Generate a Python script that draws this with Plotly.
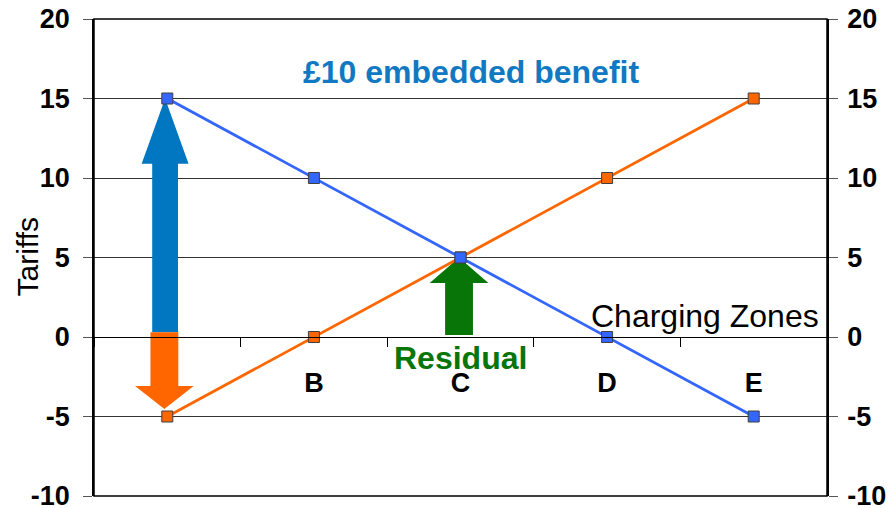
import plotly.graph_objects as go

zones = ["A", "B", "C", "D", "E"]
zone_labels = ["", "B", "C", "D", "E"]
blue_vals = [15, 10, 5, 0, -5]
orange_vals = [-5, 0, 5, 10, 15]
y_ticks = [-10, -5, 0, 5, 10, 15, 20]

FONT = "Liberation Sans, Arial, sans-serif"
BLUE_LINE = "#3366ff"
ORANGE = "#ff6600"
ARROW_BLUE = "#0077c0"
GREEN = "#087508"

fig = go.Figure()

fig.add_trace(go.Scatter(
    x=zones, y=orange_vals, mode="lines+markers",
    line=dict(color=ORANGE, width=2.8),
    marker=dict(symbol="square", size=11, color=ORANGE, line=dict(color="#404040", width=1)),
    showlegend=False, hoverinfo="skip"))
fig.add_trace(go.Scatter(
    x=zones, y=blue_vals, mode="lines+markers",
    line=dict(color=BLUE_LINE, width=2.8),
    marker=dict(symbol="square", size=11, color=BLUE_LINE, line=dict(color="#404040", width=1)),
    showlegend=False, hoverinfo="skip"))
# invisible trace to activate the right-hand axis
fig.add_trace(go.Scatter(
    x=zones, y=blue_vals, mode="markers", yaxis="y2",
    marker=dict(opacity=0), showlegend=False, hoverinfo="skip"))


def arrow_path(xc, y_base, y_head, y_tip, shaft_hw, head_hw):
    pts = [(xc - shaft_hw, y_base), (xc - shaft_hw, y_head), (xc - head_hw, y_head),
           (xc, y_tip), (xc + head_hw, y_head), (xc + shaft_hw, y_head), (xc + shaft_hw, y_base)]
    return "M " + " L ".join(f"{x},{y}" for x, y in pts) + " Z"

# Arrows (anchored on data points)
a_idx = 0
c_idx = 2
fig.add_shape(type="path", xref="x", yref="y", layer="between",
              path=arrow_path(a_idx - 0.015, 0.3, blue_vals[a_idx] - 4.1, blue_vals[a_idx], 0.088, 0.16),
              fillcolor=ARROW_BLUE, line=dict(width=0))
fig.add_shape(type="path", xref="x", yref="y", layer="between",
              path=arrow_path(a_idx - 0.02, 0.3, -3.08, orange_vals[a_idx] + 0.47, 0.095, 0.2),
              fillcolor=ORANGE, line=dict(width=0))
fig.add_shape(type="path", xref="x", yref="y", layer="between",
              path=arrow_path(c_idx - 0.01, 0.13, 3.4, blue_vals[c_idx], 0.095, 0.2),
              fillcolor=GREEN, line=dict(width=0))

# plot-area frame
fig.add_shape(type="rect", xref="paper", yref="paper", x0=0, x1=1, y0=0, y1=1,
              line=dict(color="black", width=1.5), layer="above")

fig.add_annotation(x=c_idx + 0.07, y=16.67, xref="x", yref="y", text="<b>£10 embedded benefit</b>",
                   showarrow=False, font=dict(family=FONT, size=32, color="#1178c2"))
fig.add_annotation(x=c_idx, y=-1.3, xref="x", yref="y", text="<b>Residual</b>",
                   showarrow=False, font=dict(family=FONT, size=32, color=GREEN))
fig.add_annotation(x=3.67, y=1.32, xref="x", yref="y", text="Charging Zones",
                   showarrow=False, font=dict(family=FONT, size=32, color="black"))
fig.add_annotation(x=-67 / 733, y=0.5, xref="paper", yref="paper", text="Tariffs",
                   xanchor="center", yanchor="middle",
                   textangle=-90, showarrow=False, font=dict(family=FONT, size=30, color="black"))

TICKFONT = dict(family=FONT, size=27, color="black", weight="bold")

fig.update_layout(
    width=895, height=508,
    margin=dict(l=86, r=76, t=11, b=20),
    paper_bgcolor="white", plot_bgcolor="white",
    font=dict(family=FONT, color="black"),
    xaxis=dict(
        type="category", categoryorder="array", categoryarray=zones,
        tickvals=zones, ticktext=zone_labels,
        range=[-0.5, 4.5], anchor="free", position=1/3, automargin=False,
        showline=True, linecolor="black", linewidth=1,
        showgrid=False, zeroline=False,
        ticks="outside", tickson="boundaries", ticklen=9, tickcolor="black",
        ticklabelstandoff=22,
        tickfont=TICKFONT,
    ),
    yaxis=dict(
        range=[-10, 20], tickvals=y_ticks, ticktext=[str(v) for v in y_ticks],
        showgrid=True, gridcolor="#333333", gridwidth=1, zeroline=False,
        showline=True, linecolor="black", linewidth=1.5, automargin=False,
        ticks="outside", ticklen=9, tickcolor="#555555", ticklabelstandoff=8,
        ticklabeloverflow="allow",
        tickfont=TICKFONT,
    ),
    yaxis2=dict(
        range=[-10, 20], tickvals=y_ticks, ticktext=[str(v) for v in y_ticks],
        overlaying="y", side="right", showgrid=False, zeroline=False, automargin=False,
        showline=True, linecolor="black", linewidth=1.5,
        ticks="outside", ticklen=9, tickcolor="#555555", ticklabelstandoff=4,
        ticklabeloverflow="allow",
        tickfont=TICKFONT,
    ),
)

fig.write_html("out.html")
